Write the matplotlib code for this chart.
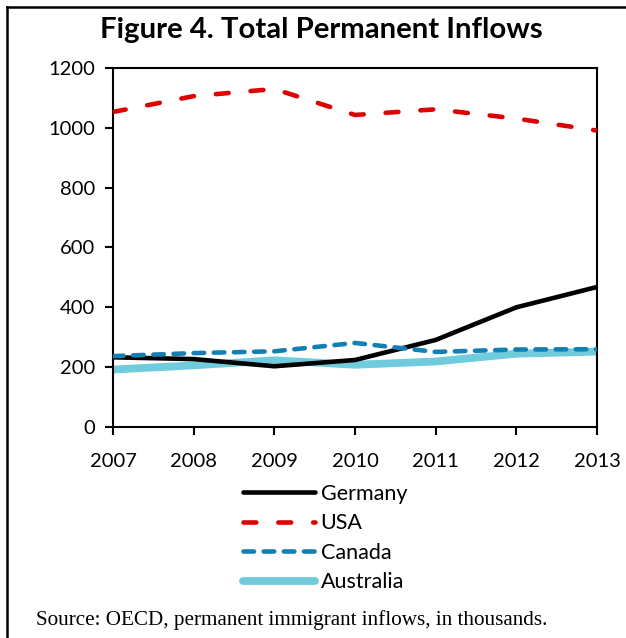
import matplotlib
matplotlib.use("Agg")
import matplotlib.pyplot as plt
from matplotlib.lines import Line2D

years = [2007, 2008, 2009, 2010, 2011, 2012, 2013]
germany = [233, 227, 203, 224, 291, 400, 468]
usa = [1053, 1106, 1130, 1043, 1062, 1031, 991]
canada = [237, 247, 253, 281, 251, 259, 260]
australia = [192, 206, 223, 208, 219, 245, 252]
y_ticks = [0, 200, 400, 600, 800, 1000, 1200]

sans = ["Lato", "DejaVu Sans"]
serif = ["Liberation Serif", "DejaVu Serif"]

fig = plt.figure(figsize=(6.26, 6.38), dpi=100)
ax = fig.add_axes([113 / 626, 1 - 427 / 638, (597 - 113) / 626, (427 - 68) / 638])

lw_thin = 3.3
ax.plot(years, germany, color="black", lw=lw_thin, solid_capstyle="round",
        solid_joinstyle="round", label="Germany", zorder=3)
ax.plot(years, usa, color="#E00000", lw=lw_thin, dashes=(2.8, 4.8),
        dash_capstyle="round", label="USA", zorder=3)
ax.plot(years, canada, color="#1380B2", lw=lw_thin, dashes=(2.3, 2.1),
        dash_capstyle="round", label="Canada", zorder=4)
ax.plot(years, australia, color="#70CBDC", lw=5.6, solid_capstyle="round",
        solid_joinstyle="round", label="Australia", zorder=2)

ax.set_xlim(years[0], years[-1])
ax.set_ylim(0, 1200)
ax.set_xticks(years)
ax.set_yticks(y_ticks)
ax.tick_params(direction="out", length=6, width=1.5, labelsize=14.5)
ax.tick_params(axis="x", pad=13)
ax.tick_params(axis="y", pad=7)
for lbl in ax.get_xticklabels() + ax.get_yticklabels():
    lbl.set_family(sans)
for s in ax.spines.values():
    s.set_linewidth(1.5)

fig.text(0.5 * (100 + 543) / 626, 1 - 30 / 638, "Figure 4. Total Permanent Inflows",
         ha="center", va="center", fontsize=21.2, fontweight="bold", family=sans)

leg = ax.legend(loc="upper left", bbox_to_anchor=(243 / 626, 1 - 484 / 638),
                bbox_transform=fig.transFigure, frameon=False,
                handlelength=3.35, handletextpad=0.25, labelspacing=0.44,
                borderpad=0, borderaxespad=0,
                prop={"family": sans, "size": 15.5})

fig.text(36 / 626, 1 - 620 / 638, "Source: OECD, permanent immigrant inflows, in thousands.",
         ha="left", va="center", fontsize=15.2, family=serif)

# outer frame: top and left rules
fig.add_artist(Line2D([7 / 626, 1.0], [1 - 7 / 638, 1 - 7 / 638],
                      transform=fig.transFigure, color="black", lw=1.8))
fig.add_artist(Line2D([7 / 626, 7 / 626], [0.0, 1 - 7 / 638],
                      transform=fig.transFigure, color="black", lw=1.8))

fig.savefig("out.png", dpi=100)
